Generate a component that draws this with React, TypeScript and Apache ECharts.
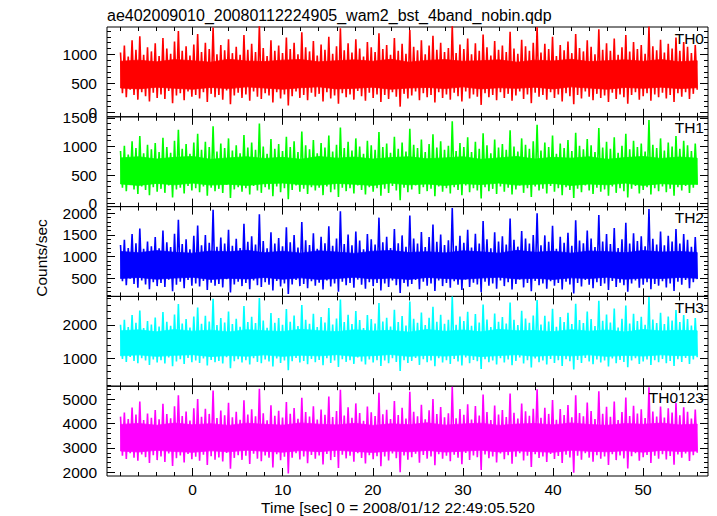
import React, { useEffect, useRef } from "react";
import * as echarts from "echarts";

const TITLE = "ae402009010_20080112224905_wam2_bst_4band_nobin.qdp";
const X_LABEL = "Time [sec] 0 = 2008/01/12 22:49:05.520";
const Y_LABEL = "Counts/sec";
const T_START = -8;
const T_END = 56;
const X_MIN = -9.5;
const X_MAX = 57.2;
const X_MAJOR = [0, 10, 20, 30, 40, 50];
const X_MINOR = [-8, -6, -4, -2, 0, 2, 4, 6, 8, 10, 12, 14, 16, 18, 20, 22, 24, 26, 28, 30, 32, 34, 36, 38, 40, 42, 44, 46, 48, 50, 52, 54, 56];
const BAND_T = [-8, -6, -4, -2, 0, 2, 4, 6, 8, 10, 12, 14, 16, 18, 20, 22, 24, 26, 28, 30, 32, 34, 36, 38, 40, 42, 44, 46, 48, 50, 52, 54, 56];

const NAMES = ["TH0", "TH1", "TH2", "TH3", "TH0123"];
const COLORS = ["#ff0000", "#00ff00", "#0000ff", "#00ffff", "#ff00ff"];
const Y_MIN = [-75, -50, 82, 162, 1849];
const Y_MAX = [1470, 1517, 2155, 2850, 5524];
const Y_MAJOR = [[0, 500, 1000], [0, 500, 1000, 1500], [500, 1000, 1500, 2000], [1000, 2000], [2000, 3000, 4000, 5000]];
const Y_MINOR_STEP = [100, 100, 100, 200, 200];

const th0 = [
  1030, 330, 1150, 260, 960, 390, 1240, 300, 1080, 220, 1310, 350, 990, 280, 1120, 190, 1050, 340, 1190, 250,
  970, 310, 1280, 230, 1100, 370, 1010, 160, 1220, 290, 1400, 330, 1060, 210, 1140, 360, 980, 270, 1170, 300,
  1350, 240, 1040, 350, 1200, 180, 1090, 320, 1460, 260, 1000, 300, 1160, 220, 1070, 380, 1260, 140, 1020, 290,
  1130, 340, 990, 250, 1330, 310, 1080, 200, 1180, 360, 1040, 270, 1510, 230, 1110, 330, 970, 290, 1240, 170,
  1060, 350, 1150, 240, 1020, 310, 1290, 120, 1090, 280, 1200, 360, 1000, 250, 1380, 300, 1120, 210, 1050, 340,
  1230, 270, 980, 320, 1170, 190, 1080, 350, 1300, 240, 1010, 290, 1140, 150, 1450, 330, 1070, 260, 1190, 310,
  1030, 220, 1260, 370, 1100, 280, 960, 200, 1210, 340, 1120, 250, 1040, 310, 1360, 180, 1090, 300, 1160, 230,
  990, 350, 1280, 270, 1060, 100, 1180, 320, 1010, 240, 1420, 290, 1130, 360, 1070, 210, 1240, 330, 1000, 260,
  1150, 300, 1320, 170, 1080, 350, 1200, 250, 1040, 310, 1110, 220, 1500, 340, 1020, 280, 1170, 190, 1090, 360,
  1270, 240, 1000, 310, 1190, 270, 1060, 130, 1340, 330, 1120, 260, 980, 300, 1230, 210, 1080, 350, 1150, 250,
  1040, 320, 1390, 200, 1100, 290, 1010, 360, 1250, 230, 1140, 310, 1060, 160, 1200, 340, 1470, 270, 1030, 300,
  1180, 220, 1090, 350, 1300, 250, 970, 310, 1160, 190, 1070, 330, 1220, 280, 1020, 140, 1350, 300, 1110, 240,
  1050, 360, 1240, 270, 1130, 210, 1000, 320, 1430, 250, 1080, 290, 1190, 180, 1060, 340, 1270, 230, 990, 310,
  1120, 260, 1330, 150, 1050, 300, 1210, 350, 1090, 220, 1160, 280, 1010, 330, 1480, 200, 1140, 310, 1070, 260,
  1250, 340, 1030, 240, 1180, 300, 1100, 180, 1290, 330, 1060, 270, 1210, 350, 1130, 230, 1020, 320, 1160, 390
];
const th1 = [
  920, 280, 1010, 220, 860, 330, 1090, 250, 970, 170, 1180, 300, 880, 240, 1030, 150, 950, 290, 1060, 210,
  900, 260, 1150, 190, 990, 320, 890, 110, 1100, 250, 1290, 280, 960, 180, 1040, 310, 870, 230, 1070, 270,
  1220, 200, 940, 300, 1080, 140, 990, 280, 1350, 220, 910, 260, 1050, 190, 970, 330, 1140, 100, 930, 250,
  1020, 290, 880, 210, 1200, 270, 980, 160, 1070, 310, 940, 230, 1400, 190, 1000, 290, 870, 250, 1130, 130,
  960, 300, 1040, 200, 920, 270, 1170, 80, 990, 240, 1090, 320, 900, 210, 1260, 260, 1020, 170, 950, 290,
  1110, 230, 880, 280, 1060, 150, 980, 300, 1190, 200, 910, 250, 1030, 120, 1330, 280, 970, 220, 1080, 270,
  930, 180, 1140, 320, 1000, 240, 870, 160, 1100, 290, 1020, 210, 940, 270, 1250, 140, 990, 260, 1050, 190,
  890, 310, 1170, 230, 960, 60, 1070, 280, 910, 200, 1310, 250, 1030, 320, 970, 170, 1120, 290, 900, 220,
  1040, 260, 1210, 130, 980, 300, 1090, 210, 940, 270, 1010, 180, 1440, 290, 920, 240, 1060, 150, 990, 320,
  1160, 200, 900, 270, 1080, 230, 960, 90, 1230, 290, 1020, 220, 880, 260, 1120, 170, 980, 300, 1040, 210,
  940, 280, 1280, 160, 1000, 250, 910, 320, 1140, 190, 1030, 270, 960, 120, 1090, 300, 1380, 230, 930, 260,
  1070, 180, 990, 310, 1190, 210, 870, 270, 1050, 150, 970, 290, 1110, 240, 920, 100, 1240, 260, 1010, 200,
  950, 320, 1130, 230, 1020, 170, 900, 280, 1320, 210, 980, 250, 1080, 140, 960, 300, 1160, 190, 890, 270,
  1010, 220, 1220, 110, 950, 260, 1100, 310, 990, 180, 1050, 240, 910, 290, 1460, 160, 1030, 270, 970, 220,
  1140, 300, 930, 200, 1070, 260, 1000, 140, 1180, 290, 960, 230, 1100, 310, 1020, 190, 920, 280, 1050, 330
];
const th2 = [
  1270, 430, 1390, 340, 1200, 490, 1520, 370, 1310, 280, 1650, 450, 1180, 360, 1350, 250, 1240, 410, 1450, 320,
  1190, 390, 1600, 300, 1330, 470, 1220, 200, 1530, 350, 1850, 420, 1290, 270, 1400, 460, 1170, 330, 1480, 380,
  1720, 310, 1260, 440, 1500, 230, 1320, 400, 2080, 330, 1230, 370, 1440, 290, 1300, 480, 1620, 170, 1250, 360,
  1410, 420, 1200, 320, 1760, 390, 1340, 250, 1470, 450, 1280, 340, 1980, 300, 1360, 410, 1190, 350, 1560, 220,
  1300, 440, 1430, 310, 1240, 380, 1680, 140, 1330, 360, 1500, 460, 1210, 320, 1800, 370, 1380, 270, 1270, 430,
  1540, 330, 1180, 400, 1460, 240, 1310, 450, 1700, 310, 1250, 380, 1420, 190, 2050, 420, 1290, 340, 1510, 390,
  1260, 280, 1580, 470, 1370, 350, 1170, 260, 1520, 410, 1400, 320, 1280, 390, 1900, 220, 1330, 380, 1460, 300,
  1200, 450, 1640, 340, 1310, 160, 1490, 390, 1230, 310, 1950, 370, 1420, 460, 1300, 250, 1570, 420, 1220, 330,
  1450, 380, 1740, 210, 1340, 450, 1510, 320, 1270, 390, 1380, 280, 2120, 430, 1250, 350, 1480, 230, 1320, 470,
  1620, 300, 1210, 400, 1530, 360, 1300, 180, 1820, 420, 1400, 330, 1190, 380, 1560, 260, 1350, 450, 1470, 320,
  1280, 410, 1880, 240, 1390, 370, 1230, 470, 1590, 290, 1420, 390, 1300, 200, 1500, 440, 2000, 340, 1260, 380,
  1490, 260, 1340, 430, 1710, 330, 1180, 390, 1460, 240, 1320, 420, 1550, 360, 1250, 150, 1840, 390, 1370, 310,
  1310, 460, 1600, 350, 1420, 270, 1220, 410, 1960, 320, 1350, 380, 1520, 230, 1290, 440, 1660, 300, 1200, 400,
  1400, 340, 1780, 190, 1300, 380, 1540, 450, 1360, 280, 1470, 350, 1240, 410, 2100, 250, 1410, 370, 1280, 330,
  1580, 430, 1260, 290, 1480, 380, 1350, 210, 1640, 420, 1300, 350, 1520, 460, 1390, 270, 1230, 410, 1450, 480
];
const th3 = [
  2000, 980, 2150, 890, 1930, 1040, 2290, 920, 2060, 850, 2430, 1000, 1900, 930, 2110, 800, 2010, 960, 2220, 870,
  1950, 940, 2380, 840, 2090, 1020, 1970, 760, 2310, 900, 2620, 970, 2040, 830, 2170, 1010, 1920, 880, 2250, 930,
  2520, 860, 2030, 990, 2270, 780, 2100, 950, 2780, 880, 1990, 920, 2200, 840, 2070, 1030, 2400, 700, 2020, 910,
  2180, 970, 1940, 870, 2560, 940, 2080, 810, 2240, 1000, 2050, 890, 2800, 850, 2130, 960, 1910, 900, 2350, 750,
  2060, 990, 2200, 860, 2000, 930, 2470, 640, 2090, 910, 2280, 1010, 1960, 870, 2590, 920, 2150, 820, 2030, 980,
  2330, 880, 1930, 950, 2230, 790, 2070, 1000, 2500, 860, 2010, 930, 2190, 740, 2760, 970, 2080, 890, 2300, 940,
  2020, 830, 2410, 1020, 2140, 900, 1900, 810, 2290, 960, 2170, 870, 2040, 940, 2650, 770, 2100, 930, 2210, 850,
  1950, 1000, 2450, 890, 2080, 620, 2260, 940, 1980, 860, 2700, 920, 2180, 1010, 2060, 800, 2370, 970, 1990, 880,
  2210, 930, 2540, 760, 2090, 1000, 2300, 870, 2030, 940, 2150, 830, 2850, 980, 2000, 900, 2250, 780, 2110, 1020,
  2390, 850, 1970, 950, 2320, 910, 2070, 680, 2610, 970, 2160, 880, 1930, 930, 2340, 810, 2090, 1000, 2230, 870,
  2040, 960, 2670, 790, 2150, 920, 1990, 1020, 2420, 840, 2190, 940, 2060, 720, 2280, 990, 2740, 880, 2010, 930,
  2270, 810, 2100, 980, 2480, 860, 1940, 940, 2230, 770, 2080, 970, 2360, 910, 2020, 660, 2630, 950, 2140, 860,
  2050, 1010, 2400, 900, 2170, 820, 1960, 960, 2720, 870, 2120, 930, 2310, 750, 2070, 990, 2490, 850, 1920, 950,
  2180, 890, 2580, 730, 2040, 930, 2330, 1000, 2110, 830, 2240, 900, 2000, 960, 2830, 800, 2160, 940, 2050, 880,
  2360, 980, 2020, 850, 2250, 920, 2130, 770, 2440, 970, 2080, 890, 2290, 1010, 2170, 830, 1980, 960, 2200, 1030
];
const th0123 = [
  4280, 2680, 4450, 2550, 4180, 2780, 4650, 2600, 4360, 2470, 4900, 2730, 4140, 2620, 4410, 2380, 4230, 2700, 4550, 2500,
  4170, 2650, 4800, 2420, 4380, 2770, 4210, 2260, 4700, 2580, 5150, 2690, 4300, 2400, 4490, 2750, 4120, 2540, 4620, 2640,
  5000, 2470, 4270, 2720, 4600, 2300, 4390, 2660, 5350, 2520, 4220, 2610, 4530, 2440, 4330, 2790, 4850, 2150, 4250, 2590,
  4480, 2700, 4150, 2510, 4950, 2680, 4360, 2340, 4580, 2760, 4290, 2560, 5420, 2450, 4420, 2690, 4130, 2600, 4740, 2200,
  4310, 2740, 4520, 2490, 4240, 2640, 4880, 1950, 4400, 2600, 4630, 2780, 4190, 2530, 5050, 2650, 4470, 2370, 4280, 2710,
  4700, 2560, 4160, 2690, 4570, 2320, 4350, 2750, 5100, 2500, 4260, 2630, 4510, 2180, 5380, 2720, 4320, 2570, 4660, 2680,
  4230, 2430, 4820, 2780, 4430, 2590, 4110, 2360, 4690, 2700, 4460, 2540, 4300, 2660, 5250, 2250, 4370, 2650, 4560, 2480,
  4180, 2770, 4920, 2580, 4340, 2000, 4640, 2690, 4200, 2520, 5300, 2620, 4480, 2760, 4290, 2390, 4760, 2710, 4170, 2560,
  4540, 2650, 5000, 2290, 4380, 2740, 4670, 2560, 4250, 2680, 4420, 2450, 5500, 2720, 4210, 2600, 4590, 2330, 4350, 2790,
  4780, 2510, 4160, 2690, 4710, 2620, 4320, 2100, 5180, 2730, 4470, 2580, 4140, 2650, 4730, 2400, 4360, 2770, 4550, 2540,
  4260, 2700, 5220, 2350, 4440, 2640, 4200, 2780, 4810, 2480, 4500, 2680, 4310, 2220, 4600, 2740, 5400, 2590, 4230, 2650,
  4640, 2420, 4390, 2750, 4960, 2550, 4150, 2670, 4590, 2380, 4340, 2720, 4750, 2610, 4250, 1980, 5150, 2680, 4430, 2520,
  4290, 2780, 4860, 2600, 4510, 2430, 4180, 2700, 5320, 2560, 4400, 2650, 4680, 2300, 4270, 2740, 4900, 2500, 4140, 2690,
  4470, 2570, 5060, 2160, 4300, 2660, 4720, 2780, 4410, 2470, 4580, 2620, 4220, 2710, 5480, 2380, 4490, 2680, 4280, 2560,
  4690, 2740, 4240, 2530, 4620, 2670, 4450, 2310, 4840, 2730, 4330, 2600, 4660, 2770, 4480, 2460, 4200, 2700, 4570, 2800
];

// always-filled core of each light curve (lower / upper envelope, every 2 s)
const th0Lo = [420, 405, 435, 415, 400, 430, 410, 440, 420, 400, 425, 440, 405, 415, 435, 400, 420, 430, 410, 440, 405, 425, 415, 435, 405, 440, 420, 400, 430, 415, 435, 410, 425];
const th0Hi = [880, 900, 870, 910, 890, 865, 915, 885, 875, 900, 910, 870, 890, 905, 880, 915, 865, 895, 910, 880, 890, 905, 865, 900, 885, 915, 875, 890, 905, 880, 910, 870, 890];
const th1Lo = [345, 320, 355, 330, 360, 325, 340, 320, 350, 360, 335, 325, 355, 340, 320, 360, 330, 345, 320, 350, 335, 360, 325, 340, 355, 320, 345, 330, 360, 320, 350, 335, 340];
const th1Hi = [800, 820, 780, 810, 825, 775, 800, 820, 790, 810, 775, 825, 795, 815, 780, 805, 820, 785, 800, 820, 775, 800, 825, 780, 810, 795, 820, 775, 805, 825, 790, 815, 795];
const th2Lo = [495, 520, 480, 505, 525, 475, 500, 485, 520, 480, 510, 475, 495, 525, 485, 505, 475, 520, 495, 480, 505, 525, 485, 500, 475, 510, 495, 525, 480, 505, 495, 520, 500];
const th2Hi = [1120, 1090, 1140, 1100, 1080, 1130, 1110, 1145, 1090, 1125, 1080, 1135, 1105, 1075, 1125, 1140, 1095, 1115, 1085, 1135, 1110, 1080, 1145, 1100, 1125, 1080, 1130, 1115, 1090, 1140, 1105, 1120, 1095];
const th3Lo = [1070, 1100, 1055, 1085, 1105, 1050, 1080, 1060, 1100, 1055, 1090, 1070, 1105, 1055, 1075, 1110, 1055, 1085, 1065, 1100, 1050, 1080, 1105, 1060, 1090, 1070, 1100, 1055, 1085, 1065, 1100, 1075, 1090];
const th3Hi = [1820, 1850, 1790, 1860, 1810, 1840, 1785, 1855, 1820, 1800, 1865, 1825, 1795, 1850, 1815, 1835, 1780, 1860, 1805, 1845, 1790, 1865, 1820, 1830, 1795, 1855, 1810, 1845, 1785, 1860, 1815, 1835, 1820];
const th0123Lo = [2870, 2830, 2900, 2850, 2820, 2880, 2840, 2905, 2860, 2825, 2890, 2845, 2900, 2855, 2815, 2875, 2840, 2895, 2830, 2865, 2905, 2835, 2875, 2850, 2820, 2900, 2860, 2840, 2885, 2825, 2895, 2855, 2870];
const th0123Hi = [3960, 4000, 3925, 4015, 3945, 3990, 3920, 4010, 3965, 3930, 4020, 3970, 3940, 4005, 3920, 3985, 3950, 4025, 3930, 3980, 4010, 3920, 3975, 4000, 3940, 4020, 3955, 3925, 3995, 3965, 4015, 3940, 3975];

const CURVES = [th0, th1, th2, th3, th0123];
const BANDS_LO = [th0Lo, th1Lo, th2Lo, th3Lo, th0123Lo];
const BANDS_HI = [th0Hi, th1Hi, th2Hi, th3Hi, th0123Hi];

const W = 717;
const H = 516;
const PLOT_LEFT = 107;
const PLOT_RIGHT = 9;
const PLOT_TOP = 27;
const PANEL_H = 89.8;
const FONT = "Liberation Sans, Arial, Helvetica, sans-serif";
const FS = 15.5;

function minorTicks(min: number, max: number, step: number) {
  const out: number[] = [];
  for (let v = Math.ceil(min / step) * step; v <= max; v += step) out.push(v);
  return out;
}

function buildOption() {
  const grid: any[] = [];
  const xAxis: any[] = [];
  const yAxis: any[] = [];
  const series: any[] = [];
  const graphic: any[] = [];
  const black = "#000";

  NAMES.forEach((name, k) => {
    const top = PLOT_TOP + k * PANEL_H;
    grid.push({
      left: PLOT_LEFT,
      right: PLOT_RIGHT,
      top,
      height: PANEL_H,
      show: true,
      borderColor: black,
      borderWidth: 1,
      backgroundColor: "transparent",
      containLabel: false,
    });
    const xBase = (position: string, ticks: number[], len: number, label: boolean) => ({
      type: "value",
      gridIndex: k,
      min: X_MIN,
      max: X_MAX,
      position,
      axisLine: { show: false, onZero: false },
      splitLine: { show: false },
      axisTick: { show: true, inside: true, length: len, customValues: ticks, lineStyle: { color: black, width: 1 } },
      axisLabel: label
        ? { show: true, customValues: X_MAJOR, color: black, fontSize: FS, fontFamily: FONT, margin: 5, formatter: (v: number) => String(v) }
        : { show: false },
    });
    const xi = xAxis.length;
    xAxis.push(xBase("bottom", X_MAJOR, 8, k === 4));
    xAxis.push(xBase("bottom", X_MINOR, 4, false));
    xAxis.push(xBase("top", X_MAJOR, 8, false));
    xAxis.push(xBase("top", X_MINOR, 4, false));

    const yMinorVals = minorTicks(Y_MIN[k], Y_MAX[k], Y_MINOR_STEP[k]);
    const yBase = (position: string, ticks: number[], len: number, label: boolean) => ({
      type: "value",
      gridIndex: k,
      min: Y_MIN[k],
      max: Y_MAX[k],
      position,
      axisLine: { show: false, onZero: false },
      splitLine: { show: false },
      axisTick: { show: true, inside: true, length: len, customValues: ticks, lineStyle: { color: black, width: 1 } },
      axisLabel: label
        ? { show: true, customValues: Y_MAJOR[k], color: black, fontSize: FS, fontFamily: FONT, margin: 10, formatter: (v: number) => String(v) }
        : { show: false },
    });
    const yi = yAxis.length;
    yAxis.push(yBase("left", Y_MAJOR[k], 8, true));
    yAxis.push(yBase("left", yMinorVals, 4, false));
    yAxis.push(yBase("right", Y_MAJOR[k], 8, false));
    yAxis.push(yBase("right", yMinorVals, 4, false));

    const lo = BANDS_LO[k];
    const hi = BANDS_HI[k];
    const color = COLORS[k];
    series.push({
      type: "custom",
      xAxisIndex: xi,
      yAxisIndex: yi,
      silent: true,
      clip: true,
      z: 1,
      data: BAND_T.map((t, i) => [t, lo[i], hi[i]]),
      renderItem: (params: any, api: any) => {
        if (params.dataIndex !== 0) return null;
        const pts: number[][] = [];
        for (let i = 0; i < BAND_T.length; i++) pts.push(api.coord([BAND_T[i], hi[i]]));
        for (let i = BAND_T.length - 1; i >= 0; i--) pts.push(api.coord([BAND_T[i], lo[i]]));
        return {
          type: "polygon",
          shape: { points: pts },
          style: { fill: color, stroke: color, lineWidth: 0.8 },
        };
      },
    });
    const vals = CURVES[k];
    const dt = (T_END - T_START) / (vals.length - 1);
    series.push({
      type: "line",
      name,
      xAxisIndex: xi,
      yAxisIndex: yi,
      symbol: "none",
      silent: true,
      clip: true,
      z: 2,
      lineStyle: { color, width: 1.6 },
      data: vals.map((v, i) => [T_START + i * dt, v]),
    });

    graphic.push({
      type: "text",
      x: W - PLOT_RIGHT - 4,
      y: top + 11,
      z: 100,
      style: { text: name, fill: black, font: `${FS}px ${FONT}`, textAlign: "right", textVerticalAlign: "middle" },
    });
  });

  graphic.push({
    type: "text",
    x: PLOT_LEFT,
    y: 15,
    style: { text: TITLE, fill: "#000", font: `16px ${FONT}`, textAlign: "left", textVerticalAlign: "middle" },
  });
  graphic.push({
    type: "text",
    x: 398,
    y: 507,
    style: { text: X_LABEL, fill: "#000", font: `${FS}px ${FONT}`, textAlign: "center", textVerticalAlign: "middle" },
  });
  graphic.push({
    type: "text",
    x: 41,
    y: 258,
    rotation: Math.PI / 2,
    style: { text: Y_LABEL, fill: "#000", font: `${FS}px ${FONT}`, textAlign: "center", textVerticalAlign: "middle" },
  });

  return {
    animation: false,
    backgroundColor: "#fff",
    grid,
    xAxis,
    yAxis,
    series,
    graphic,
  };
}

export default function App() {
  const ref = useRef<HTMLDivElement>(null);
  useEffect(() => {
    if (!ref.current) return;
    const chart = echarts.init(ref.current, undefined, { renderer: "svg" });
    chart.setOption(buildOption() as any);
    return () => chart.dispose();
  }, []);
  return <div ref={ref} style={{ position: "fixed", left: 0, top: 0, width: W, height: H }} />;
}
